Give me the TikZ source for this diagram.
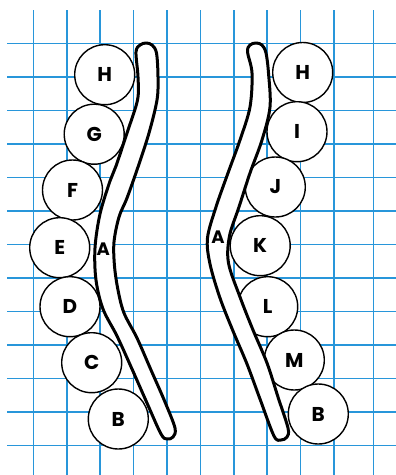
\documentclass[tikz,border=0pt]{standalone}
\usepackage{fontspec}
\setmainfont{Poppins}
\definecolor{gridblue}{RGB}{40,150,218}
\tikzset{
  gridline/.style={draw=gridblue, line width=1.5pt},
  ball/.style={circle, draw=black, line width=1.4pt, fill=white, minimum size=60pt, inner sep=0pt, font=\bfseries\fontsize{20}{20}\selectfont},
  spine/.style={draw=black, line width=3pt, fill=white, line join=round},
  spinelabel/.style={inner sep=0pt, font=\bfseries\fontsize{18}{18}\selectfont}
}
\begin{document}
\begin{tikzpicture}[x=1pt,y=-1pt]
\useasboundingbox (0,0) rectangle (396,475);
% grid
\foreach \gx in {33.4,66.8,100.2,133.6,167,200.4,233.8,267.2,300.6,334,373.7}
  \draw[gridline] (\gx,10) -- (\gx,475);
\foreach \gy in {43.5,77,110.5,144,177.5,211,244.5,278,311.5,345,378.5,412,445.5}
  \draw[gridline] (7,\gy) -- (396,\gy);
% left column
\node[ball] (LH) at (104.7,74.7) {H};
\node[ball] (LG) at (94.2,134.2) {G};
\node[ball] (LF) at (72.5,190) {F};
\node[ball] (LE) at (59.7,247.7) {E};
\node[ball] (LD) at (70,306.7) {D};
\node[ball] (LC) at (91.7,362.7) {C};
\node[ball] (LB) at (118.3,419) {B};
% right column
\node[ball] (RH) at (302.7,72.5) {H};
\node[ball] (RI) at (297,131.7) {I};
\node[ball] (RJ) at (275.3,187) {J};
\node[ball] (RK) at (260.2,245.7) {K};
\node[ball] (RL) at (267.7,306.7) {L};
\node[ball] (RM) at (294.3,360) {M};
\node[ball] (RB) at (318.3,414) {B};
% left spine
\draw[spine] plot[smooth cycle, tension=0.55] coordinates {
  (136,52) (140,45) (146,43) (152,45) (156.5,53)
  (158,77) (157,100) (149,133) (138,167) (127,198) (119,217) (114,242) (114.5,266) (118,290) (124,313)
  (137,338) (151,370) (165,402) (175,428)
  (173,437) (167,439) (161,434)
  (147,403) (132,369) (117,336) (103,309) (96,280) (95,248) (100,214) (110,181) (116,166) (127,133) (137.5,100) (138,77)
};
% right spine
\draw[spine] plot[smooth cycle, tension=0.55] coordinates {
  (247.5,52) (250,45) (256,43) (262,45) (266,53)
  (268.5,73) (270,107) (262,140) (250,173) (239,207) (229.5,236) (228.5,263) (240,297) (253,330) (267,363) (278,397) (288,428)
  (287,437) (281,440) (274,436)
  (260,399) (247,364) (233,331) (220,298) (210,264) (207.5,238) (216,207) (228,173) (240,140) (250,107) (252,73)
};
\node[spinelabel] (LA) at (103.3,249.5) {A};
\node[spinelabel] (RA) at (218,237.5) {A};
\end{tikzpicture}
\end{document}
